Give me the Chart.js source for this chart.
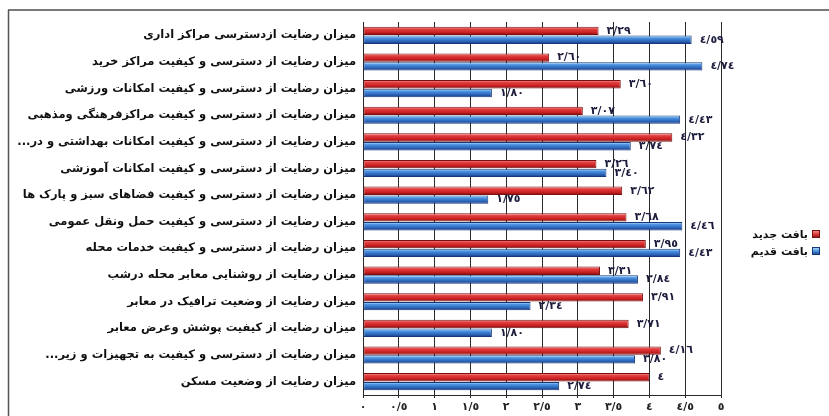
<!DOCTYPE html>
<html>
<head>
<meta charset="utf-8">
<script src="https://cdn.jsdelivr.net/npm/chart.js@4"></script>
<style>
  html, body { margin: 0; padding: 0; background: #fff; }
  #wrap { width: 829px; height: 416px; position: relative; }
</style>
</head>
<body>
<div id="wrap"><canvas id="chart"></canvas></div>
<script>
const RLM = '\u200F';

const categories = [
  'میزان رضایت ازدسترسی مراکز اداری',
  'میزان رضایت از دسترسی و کیفیت مراکز خرید',
  'میزان رضایت از دسترسی و کیفیت امکانات ورزشی',
  'میزان رضایت از دسترسی و کیفیت مراکزفرهنگی ومذهبی',
  'میزان رضایت از دسترسی و کیفیت امکانات بهداشتی و در...' + RLM,
  'میزان رضایت از دسترسی و کیفیت امکانات آموزشی',
  'میزان رضایت از دسترسی و کیفیت فضاهای سبز و پارک ها',
  'میزان رضایت از دسترسی و کیفیت حمل ونقل عمومی',
  'میزان رضایت از دسترسی و کیفیت خدمات محله',
  'میزان رضایت از روشنایی معابر محله درشب',
  'میزان رضایت از وضعیت ترافیک در معابر',
  'میزان رضایت از کیفیت پوشش وعرض معابر',
  'میزان رضایت از دسترسی و کیفیت به تجهیزات و زیر...' + RLM,
  'میزان رضایت از وضعیت مسکن'
];

const seriesNames = ['بافت جدید', 'بافت قدیم'];

// بافت جدید
const newFabric = [3.29, 2.60, 3.60, 3.07, 4.32, 3.26, 3.62, 3.68, 3.95, 3.31, 3.91, 3.71, 4.16, 4.00];
// بافت قدیم
const oldFabric = [4.59, 4.74, 1.80, 4.43, 3.74, 3.40, 1.75, 4.46, 4.43, 3.84, 2.34, 1.80, 3.80, 2.74];

const xMin = 0, xMax = 5, xStep = 0.5;

// colors for the 3d look: [top, upper, lower, bottom, border]
const redShades = ['#f6a3a3', '#e23d3d', '#c71f1f', '#7a0d0d', '#7a1010'];
const blueShades = ['#c4ecff', '#4c93e2', '#2a62b6', '#15387c', '#17387a'];
const shades = [redShades, blueShades];

const faDigits = '٠١٢٣٤٥٦٧٨٩';
function toFa(str) {
  return String(str).replace(/[0-9]/g, d => faDigits[+d]).replace('.', '/');
}
function fmtValue(v) {
  let s = v.toFixed(2);
  if (s.endsWith('.00')) s = String(Math.round(v));
  return toFa(s);
}
function fmtTick(v) {
  return toFa(Number.isInteger(v) ? String(v) : v.toFixed(1));
}

// paint each bar with a vertical gradient
const gradientBars = {
  id: 'gradientBars',
  beforeDatasetsDraw(chart) {
    const ctx = chart.ctx;
    chart.data.datasets.forEach((ds, i) => {
      const s = shades[i];
      chart.getDatasetMeta(i).data.forEach(el => {
        const top = el.y - el.height / 2;
        const g = ctx.createLinearGradient(0, top, 0, top + el.height);
        g.addColorStop(0, s[0]);
        g.addColorStop(0.3, s[1]);
        g.addColorStop(0.7, s[2]);
        g.addColorStop(1, s[3]);
        el.options.backgroundColor = g;
      });
    });
  }
};

// value labels next to bar ends
const valueLabels = {
  id: 'valueLabels',
  afterDatasetsDraw(chart) {
    const ctx = chart.ctx;
    ctx.save();
    ctx.font = 'bold 11px "DejaVu Sans"';
    ctx.fillStyle = '#1c1c3c';
    ctx.textAlign = 'left';
    ctx.textBaseline = 'middle';
    chart.data.datasets.forEach((ds, i) => {
      chart.getDatasetMeta(i).data.forEach((el, j) => {
        ctx.fillText(fmtValue(ds.data[j]), el.x + 8, el.y);
      });
    });
    ctx.restore();
  }
};

// outer frame and legend on the right
const frameAndLegend = {
  id: 'frameAndLegend',
  beforeDraw(chart) {
    const ctx = chart.ctx;
    ctx.save();
    ctx.fillStyle = '#fff';
    ctx.fillRect(0, 0, chart.width, chart.height);
    ctx.strokeStyle = '#7a7a7a';
    ctx.lineWidth = 2;
    ctx.beginPath();
    ctx.moveTo(8, 10);
    ctx.lineTo(chart.width, 10);
    ctx.stroke();
    ctx.strokeStyle = '#555';
    ctx.lineWidth = 1.5;
    ctx.beginPath();
    ctx.moveTo(8.5, 10);
    ctx.lineTo(8.5, chart.height);
    ctx.stroke();
    ctx.restore();
  },
  afterDraw(chart) {
    const ctx = chart.ctx;
    ctx.save();
    ctx.font = 'bold 11px "DejaVu Sans"';
    ctx.textAlign = 'right';
    ctx.textBaseline = 'middle';
    seriesNames.forEach((name, i) => {
      const y = 234 + i * 17;
      const s = shades[i];
      const g = ctx.createLinearGradient(0, y - 4, 0, y + 4);
      g.addColorStop(0, s[0]);
      g.addColorStop(0.5, s[1]);
      g.addColorStop(1, s[3]);
      ctx.fillStyle = g;
      ctx.fillRect(812, y - 4, 8, 8);
      ctx.strokeStyle = s[4];
      ctx.lineWidth = 1;
      ctx.strokeRect(812.5, y - 3.5, 7, 7);
      ctx.fillStyle = '#111';
      ctx.fillText(name, 808, y + 1);
    });
    ctx.restore();
  }
};

new Chart(document.getElementById('chart'), {
  type: 'bar',
  data: {
    labels: categories,
    datasets: [
      {
        label: seriesNames[0],
        data: newFabric,
        backgroundColor: () => redShades[1],
        borderColor: redShades[4],
        borderWidth: 1,
        borderSkipped: false,
        categoryPercentage: 0.66,
        barPercentage: 0.95
      },
      {
        label: seriesNames[1],
        data: oldFabric,
        backgroundColor: () => blueShades[1],
        borderColor: blueShades[4],
        borderWidth: 1,
        borderSkipped: false,
        categoryPercentage: 0.66,
        barPercentage: 0.95
      }
    ]
  },
  options: {
    indexAxis: 'y',
    responsive: true,
    maintainAspectRatio: false,
    animation: false,
    devicePixelRatio: 1,
    layout: { padding: { top: 22, right: 108, bottom: 0, left: 0 } },
    plugins: {
      legend: { display: false },
      tooltip: { enabled: false }
    },
    scales: {
      x: {
        min: xMin,
        max: xMax,
        afterFit(axis) { axis.height = 21; },
        ticks: {
          stepSize: xStep,
          padding: 3,
          color: '#222',
          font: { family: 'DejaVu Sans', size: 11, weight: 'bold' },
          callback: v => fmtTick(v)
        },
        grid: { color: '#2a2a2a', lineWidth: 1, tickLength: 3 },
        border: { display: true, color: '#2a2a2a', width: 1 }
      },
      y: {
        afterFit(axis) { axis.width = 363; },
        ticks: {
          padding: 7,
          color: '#111',
          autoSkip: false,
          font: { family: 'DejaVu Sans', size: 11.5, weight: 'bold' }
        },
        grid: { display: false, drawTicks: false },
        border: { display: true, color: '#2a2a2a', width: 1 }
      }
    }
  },
  plugins: [gradientBars, valueLabels, frameAndLegend]
});
</script>
</body>
</html>
